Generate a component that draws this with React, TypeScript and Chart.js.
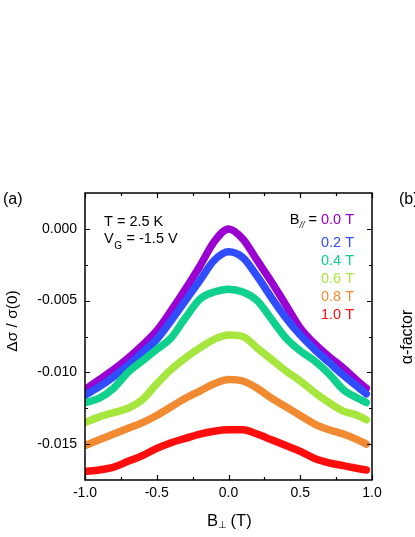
import React, { useEffect, useRef } from 'react';
import { Chart, registerables } from 'chart.js';

Chart.register(...registerables);

// B_perp (T)
const bPerp = [-1.0, -0.9, -0.8, -0.7, -0.6, -0.5, -0.4, -0.3, -0.2, -0.1, 0.0, 0.1, 0.2, 0.3, 0.4, 0.5, 0.6, 0.7, 0.8, 0.9, 0.96];

// Δσ/σ(0) for each B_parallel
const sigmaB00 = [-0.0112, -0.0105, -0.0098, -0.0090, -0.0081, -0.0071, -0.0057, -0.0042, -0.0026, -0.0009, 0.0000, -0.0007, -0.0022, -0.0037, -0.0053, -0.0069, -0.0080, -0.0089, -0.0097, -0.0106, -0.0111];
const sigmaB02 = [-0.0116, -0.0110, -0.0103, -0.0095, -0.0086, -0.0077, -0.0064, -0.0050, -0.0036, -0.0022, -0.0016, -0.0020, -0.0033, -0.0048, -0.0062, -0.0074, -0.0084, -0.0093, -0.0102, -0.0110, -0.0115];
const sigmaB04 = [-0.0121, -0.0118, -0.0111, -0.0100, -0.0092, -0.0084, -0.0076, -0.0062, -0.0049, -0.0044, -0.0042, -0.0044, -0.0050, -0.0063, -0.0076, -0.0085, -0.0092, -0.0101, -0.0112, -0.0118, -0.0121];
const sigmaB06 = [-0.0135, -0.0131, -0.0128, -0.0125, -0.0119, -0.0108, -0.0098, -0.0090, -0.0083, -0.0077, -0.0074, -0.0075, -0.0083, -0.0091, -0.0099, -0.0106, -0.0114, -0.0121, -0.0127, -0.0130, -0.0133];
const sigmaB08 = [-0.0151, -0.0147, -0.0143, -0.0139, -0.0135, -0.0130, -0.0124, -0.0118, -0.0113, -0.0108, -0.0105, -0.0106, -0.0111, -0.0118, -0.0124, -0.0130, -0.0136, -0.0140, -0.0143, -0.0147, -0.0150];
const sigmaB10 = [-0.0169, -0.0168, -0.0166, -0.0162, -0.0158, -0.0153, -0.0149, -0.0146, -0.0143, -0.0141, -0.0140, -0.0140, -0.0143, -0.0147, -0.0151, -0.0155, -0.0160, -0.0163, -0.0165, -0.0167, -0.0168];

const seriesValues = [sigmaB00, sigmaB02, sigmaB04, sigmaB06, sigmaB08, sigmaB10];
const seriesLabels = ['0.0 T', '0.2 T', '0.4 T', '0.6 T', '0.8 T', '1.0 T'];
const seriesColors = ['#9a00cf', '#2f4dff', '#0fd08c', '#a6e63e', '#f28a32', '#ff0d0d'];

const xTickValues = [-1.0, -0.5, 0.0, 0.5, 1.0];
const xTickLabels = ['-1.0', '-0.5', '0.0', '0.5', '1.0'];
const xMinorTicks = [-0.75, -0.25, 0.25, 0.75];
const yTickValues = [0.0, -0.005, -0.010, -0.015];
const yTickLabels = ['0.000', '-0.005', '-0.010', '-0.015'];
const yMinorTicks = [-0.0025, -0.0075, -0.0125];

const FONT = "'Liberation Sans', Arial, Helvetica, sans-serif";

const framePlugin = {
  id: 'frameAndText',
  afterDatasetsDraw(chart: any) {
    const { ctx, chartArea: a, scales } = chart;
    const xs = scales.x;
    const ys = scales.y;
    ctx.save();
    ctx.strokeStyle = '#000';
    ctx.lineWidth = 1.5;
    ctx.strokeRect(a.left, a.top, a.right - a.left, a.bottom - a.top);
    ctx.lineWidth = 1.2;
    const drawX = (v: number, len: number) => {
      const px = Math.round(xs.getPixelForValue(v)) + 0.5;
      ctx.beginPath();
      ctx.moveTo(px, a.bottom);
      ctx.lineTo(px, a.bottom - len);
      ctx.moveTo(px, a.top);
      ctx.lineTo(px, a.top + len);
      ctx.stroke();
    };
    const drawY = (v: number, len: number) => {
      const py = Math.round(ys.getPixelForValue(v)) + 0.5;
      ctx.beginPath();
      ctx.moveTo(a.left, py);
      ctx.lineTo(a.left + len, py);
      ctx.moveTo(a.right, py);
      ctx.lineTo(a.right - len, py);
      ctx.stroke();
    };
    xTickValues.forEach((v) => drawX(v, 5));
    xMinorTicks.forEach((v) => drawX(v, 3));
    yTickValues.forEach((v) => drawY(v, 5));
    yMinorTicks.forEach((v) => drawY(v, 3));

    ctx.fillStyle = '#000';
    ctx.textBaseline = 'alphabetic';
    ctx.textAlign = 'left';

    // panel labels
    ctx.font = `16px ${FONT}`;
    ctx.fillText('(a)', 3, 204);
    ctx.fillText('(b)', 399, 204);

    // conditions
    ctx.font = `14.5px ${FONT}`;
    ctx.fillText('T = 2.5 K', 104, 226);
    ctx.fillText('V', 104, 243);
    const vw = ctx.measureText('V').width;
    ctx.font = `10px ${FONT}`;
    ctx.fillText('G', 104 + vw + 0.5, 249);
    const gw = ctx.measureText('G').width;
    ctx.font = `14.5px ${FONT}`;
    ctx.fillText(' = -1.5 V', 104 + vw + gw + 1, 243);

    // legend
    const rightX = 354;
    const baselines = [224, 247, 265, 283, 301, 319];
    ctx.textAlign = 'right';
    seriesLabels.forEach((lab, i) => {
      ctx.font = `14.5px ${FONT}`;
      ctx.fillStyle = seriesColors[i];
      ctx.fillText(lab, rightX, baselines[i]);
      if (i === 0) {
        const lw = ctx.measureText(lab + ' ').width;
        ctx.fillStyle = '#000';
        const eqX = rightX - lw;
        ctx.fillText('=', eqX, baselines[i]);
        const ew = ctx.measureText(' =').width;
        ctx.font = `italic 9px ${FONT}`;
        const subX = eqX - ew;
        ctx.fillText('//', subX, baselines[i] + 4);
        const sw = ctx.measureText('//').width;
        ctx.font = `14.5px ${FONT}`;
        ctx.fillText('B', subX - sw, baselines[i]);
      }
    });

    // x title
    ctx.fillStyle = '#000';
    ctx.textAlign = 'left';
    const cx = (a.left + a.right) / 2;
    ctx.font = `16.5px ${FONT}`;
    const bx = cx - 21.5;
    ctx.fillText('B', bx, 526);
    const bw = ctx.measureText('B').width;
    ctx.font = `10px ${FONT}`;
    ctx.fillText('\u22A5', bx + bw, 528);
    const pw = ctx.measureText('\u22A5').width;
    ctx.font = `16.5px ${FONT}`;
    ctx.fillText(' (T)', bx + bw + pw - 1, 526);

    // y title
    ctx.save();
    ctx.translate(17, 321);
    ctx.rotate(-Math.PI / 2);
    ctx.textAlign = 'center';
    ctx.font = `15.5px ${FONT}`;
    ctx.fillText('\u0394\u03C3 / \u03C3(0)', 0, 0);
    ctx.restore();

    // right panel axis title (cut off)
    ctx.save();
    ctx.translate(412, 337);
    ctx.rotate(-Math.PI / 2);
    ctx.textAlign = 'center';
    ctx.font = `16px ${FONT}`;
    ctx.fillText('\u03B1-factor', 0, 0);
    ctx.restore();

    ctx.restore();
  },
};

export default function App() {
  const ref = useRef<HTMLCanvasElement>(null);
  useEffect(() => {
    const canvas = ref.current;
    if (!canvas) return;
    Chart.defaults.font.family = FONT;
    const chart = new Chart(canvas, {
      type: 'line',
      data: {
        datasets: seriesValues.map((vals, i) => ({
          label: seriesLabels[i],
          data: bPerp.map((x, j) => ({ x, y: vals[j] })),
          borderColor: seriesColors[i],
          backgroundColor: seriesColors[i],
          borderWidth: 7.5,
          pointRadius: 0,
          pointHoverRadius: 0,
          cubicInterpolationMode: 'monotone' as const,
          borderCapStyle: 'round' as const,
          borderJoinStyle: 'round' as const,
          fill: false,
          clip: 0,
          order: seriesValues.length - 1 - i,
        })),
      },
      options: {
        responsive: false,
        devicePixelRatio: 1,
        animation: false,
        events: [],
        layout: { padding: { top: 193, right: 43, left: 0, bottom: 0 } },
        plugins: { legend: { display: false }, tooltip: { enabled: false } },
        scales: {
          x: {
            type: 'linear',
            min: -1,
            max: 1,
            grid: { display: false, drawTicks: false },
            border: { display: false },
            ticks: {
              color: '#000',
              font: { size: 14, family: FONT },
              padding: 5,
              maxRotation: 0,
              autoSkip: false,
              callback: (_v: any, i: number) => xTickLabels[i],
            },
            afterBuildTicks: (s: any) => {
              s.ticks = xTickValues.map((v) => ({ value: v }));
            },
            afterFit: (s: any) => {
              s.height = 57;
            },
          },
          y: {
            type: 'linear',
            min: -0.0175,
            max: 0.0025,
            grid: { display: false, drawTicks: false },
            border: { display: false },
            ticks: {
              color: '#000',
              font: { size: 14, family: FONT },
              padding: 8,
              autoSkip: false,
              callback: (_v: any, i: number) => yTickLabels[i],
            },
            afterBuildTicks: (s: any) => {
              s.ticks = yTickValues.map((v) => ({ value: v }));
            },
            afterFit: (s: any) => {
              s.width = 85;
            },
          },
        },
      },
      plugins: [framePlugin],
    });
    return () => chart.destroy();
  }, []);
  return (
    <div style={{ position: 'absolute', left: 0, top: 0, width: 415, height: 537, background: '#fff', overflow: 'hidden' }}>
      <canvas ref={ref} width={415} height={537} style={{ display: 'block', width: 415, height: 537 }} />
    </div>
  );
}
